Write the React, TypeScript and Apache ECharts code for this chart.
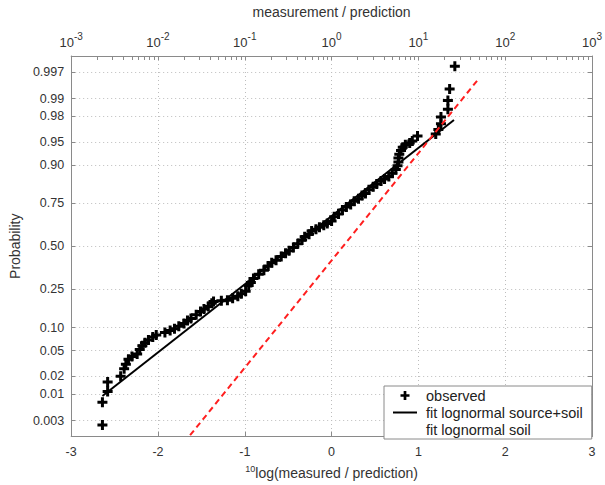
import React, { useEffect, useRef } from 'react';
import * as echarts from 'echarts';

// Probability tick marks on the normal-quantile y axis
const probTickValues = [0.003, 0.01, 0.02, 0.05, 0.1, 0.25, 0.5, 0.75, 0.9, 0.95, 0.98, 0.99, 0.997];
const probTickLabels = ['0.003', '0.01', '0.02', '0.05', '0.10', '0.25', '0.50', '0.75', '0.90', '0.95', '0.98', '0.99', '0.997'];

// bottom axis: 10log(measured / prediction)
const bottomTicks = [-3, -2, -1, 0, 1, 2, 3];
// top axis: decades of measurement / prediction (exponents)
const topDecades = [-3, -2, -1, 0, 1, 2, 3];
const topMinorMultipliers = [2, 3, 4, 5, 6, 7, 8, 9];

// observed: [10log(measured/prediction), standard normal quantile of plotting position]
const observed: [number, number][] = [
  [-2.64, -2.82], [-2.64, -2.46], [-2.58, -2.29], [-2.58, -2.14], [-2.43, -2.05],
  [-2.39, -1.93], [-2.37, -1.86], [-2.34, -1.78], [-2.30, -1.74], [-2.24, -1.70],
  [-2.21, -1.63], [-2.18, -1.57], [-2.15, -1.52], [-2.11, -1.48], [-2.06, -1.43],
  [-2.02, -1.40], [-1.92, -1.36], [-1.86, -1.33], [-1.81, -1.30], [-1.76, -1.26],
  [-1.70, -1.22], [-1.66, -1.17], [-1.62, -1.14], [-1.56, -1.08], [-1.51, -1.03],
  [-1.47, -0.99], [-1.42, -0.95], [-1.38, -0.90], [-1.36, -0.87], [-1.27, -0.86],
  [-1.20, -0.85], [-1.14, -0.82], [-1.08, -0.79], [-1.04, -0.75], [-0.99, -0.71],
  [-0.955, -0.62], [-0.93, -0.57], [-0.90, -0.51], [-0.84, -0.44], [-0.78, -0.38],
  [-0.73, -0.31], [-0.69, -0.26], [-0.64, -0.22], [-0.58, -0.16], [-0.53, -0.11],
  [-0.49, -0.07], [-0.44, -0.02], [-0.39, 0.04], [-0.34, 0.10], [-0.31, 0.15],
  [-0.26, 0.19], [-0.23, 0.24], [-0.18, 0.27], [-0.14, 0.30], [-0.09, 0.33],
  [-0.05, 0.36], [0.0, 0.40], [0.03, 0.465], [0.08, 0.51], [0.125, 0.57],
  [0.17, 0.62], [0.22, 0.66], [0.26, 0.71], [0.31, 0.75], [0.35, 0.80],
  [0.39, 0.83], [0.43, 0.89], [0.48, 0.94], [0.52, 0.98], [0.57, 1.03],
  [0.61, 1.06], [0.66, 1.10], [0.70, 1.15], [0.74, 1.21], [0.76, 1.27],
  [0.77, 1.33], [0.77, 1.39], [0.78, 1.45], [0.80, 1.51], [0.82, 1.56],
  [0.85, 1.60], [0.90, 1.63], [0.93, 1.66], [0.99, 1.74], [1.20, 1.77],
  [1.23, 1.84], [1.26, 1.93], [1.26, 2.04], [1.34, 2.16], [1.34, 2.30],
  [1.36, 2.48], [1.42, 2.84],
];

// fitted lines: [10log(measured/prediction), normal quantile]
const fitSourceSoil: [number, number][] = [[-2.64, -2.36], [1.41, 1.99]];
const fitSoil: [number, number][] = [[-1.63, -2.98], [1.70, 2.65]];

function probit(p: number): number {
  const a = [-3.969683028665376e1, 2.209460984245205e2, -2.759285104469687e2, 1.38357751867269e2, -3.066479806614716e1, 2.506628277459239];
  const b = [-5.447609879822406e1, 1.615858368580409e2, -1.556989798598866e2, 6.680131188771972e1, -1.328068155288572e1];
  const c = [-7.784894002430293e-3, -3.223964580411365e-1, -2.400758277161838, -2.549732539343734, 4.374664141464968, 2.938163982698783];
  const d = [7.784695709041462e-3, 3.224671290700398e-1, 2.445134137142996, 3.754408661907416];
  const pl = 0.02425;
  if (p < pl) {
    const q = Math.sqrt(-2 * Math.log(p));
    return (((((c[0] * q + c[1]) * q + c[2]) * q + c[3]) * q + c[4]) * q + c[5]) / ((((d[0] * q + d[1]) * q + d[2]) * q + d[3]) * q + 1);
  }
  if (p > 1 - pl) {
    const q = Math.sqrt(-2 * Math.log(1 - p));
    return -(((((c[0] * q + c[1]) * q + c[2]) * q + c[3]) * q + c[4]) * q + c[5]) / ((((d[0] * q + d[1]) * q + d[2]) * q + d[3]) * q + 1);
  }
  const q = p - 0.5;
  const r = q * q;
  return ((((((a[0] * r + a[1]) * r + a[2]) * r + a[3]) * r + a[4]) * r + a[5]) * q) / (((((b[0] * r + b[1]) * r + b[2]) * r + b[3]) * r + b[4]) * r + 1);
}

const FONT = '"Liberation Sans", Arial, sans-serif';
const AXIS_COLOR = '#8a8a8a';
const TEXT_COLOR = '#333';
const GRID_LINE = { show: true, lineStyle: { color: '#bdbdbd', type: [1, 3] as any, width: 1 } };

const PLUS = 'path://M3.5,0H6.5V3.5H10V6.5H6.5V10H3.5V6.5H0V3.5H3.5Z';
const LINE_ICON = 'path://M0,0L0,0M0,3.5H24V5.5H0Z M24,9L24,9';

export default function App() {
  const ref = useRef<HTMLDivElement>(null);
  useEffect(() => {
    if (!ref.current) return;
    const chart = echarts.init(ref.current, undefined, { renderer: 'svg' });
    const probZ = probTickValues.map(probit);
    const labelFor = (v: number) => {
      let best = 0;
      for (let i = 1; i < probZ.length; i++) if (Math.abs(probZ[i] - v) < Math.abs(probZ[best] - v)) best = i;
      return probTickLabels[best];
    };
    const topTickValues: number[] = [];
    topDecades.forEach((e, i) => {
      topTickValues.push(e);
      if (i < topDecades.length - 1) topMinorMultipliers.forEach((m) => topTickValues.push(e + Math.log10(m)));
    });
    const option: any = {
      animation: false,
      backgroundColor: '#fff',
      textStyle: { fontFamily: FONT },
      grid: { left: 70, right: 7, top: 50, bottom: 43, containLabel: false },
      xAxis: [
        {
          type: 'value', position: 'bottom', min: -3, max: 3, interval: 1,
          axisLine: { show: true, onZero: false, lineStyle: { color: AXIS_COLOR, width: 1 } },
          axisTick: { show: true, inside: true, length: 5, lineStyle: { color: AXIS_COLOR } },
          axisLabel: { show: true, color: TEXT_COLOR, fontSize: 12.5, margin: 9, fontFamily: FONT, customValues: bottomTicks },
          splitLine: GRID_LINE,
          name: '{sup|10}{base|log(measured / prediction)}',
          nameLocation: 'middle', nameGap: 28,
          nameTextStyle: {
            fontFamily: FONT, color: TEXT_COLOR,
            rich: {
              sup: { fontSize: 9, fontFamily: FONT, color: TEXT_COLOR, padding: [0, 0, 8, 0] },
              base: { fontSize: 14, fontFamily: FONT, color: TEXT_COLOR },
            },
          },
        },
        {
          type: 'value', position: 'top', min: -3, max: 3, interval: 1,
          axisLine: { show: true, onZero: false, lineStyle: { color: AXIS_COLOR, width: 1 } },
          axisTick: { show: true, inside: true, length: 4, customValues: topTickValues, lineStyle: { color: AXIS_COLOR } },
          axisLabel: {
            show: true, margin: 3, customValues: topDecades,
            formatter: (v: number) => `{base|10}{sup|${Math.round(v)}}`,
            rich: {
              base: { fontSize: 13, fontFamily: FONT, color: TEXT_COLOR },
              sup: { fontSize: 10, fontFamily: FONT, color: TEXT_COLOR, padding: [0, 0, 12, 0] },
            },
          },
          splitLine: { show: false },
          name: 'measurement / prediction',
          nameLocation: 'middle', nameGap: 37,
          nameTextStyle: { fontSize: 14, fontFamily: FONT, color: TEXT_COLOR },
        },
      ],
      yAxis: [
        {
          type: 'value', position: 'left', min: -3, max: 3,
          axisLine: { show: true, onZero: false, lineStyle: { color: AXIS_COLOR, width: 1 } },
          axisTick: { show: true, inside: true, length: 4, customValues: probZ, lineStyle: { color: AXIS_COLOR } },
          axisLabel: { show: true, customValues: probZ, formatter: (v: number) => labelFor(v), color: TEXT_COLOR, fontSize: 12.5, fontFamily: FONT, margin: 7 },
          splitLine: GRID_LINE,
          name: 'Probability', nameLocation: 'middle', nameGap: 42, nameRotate: 90,
          nameTextStyle: { fontSize: 14, fontFamily: FONT, color: TEXT_COLOR },
        },
        {
          type: 'value', position: 'right', min: -3, max: 3,
          axisLine: { show: true, onZero: false, lineStyle: { color: AXIS_COLOR, width: 1 } },
          axisTick: { show: true, inside: true, length: 4, customValues: probZ, lineStyle: { color: AXIS_COLOR } },
          axisLabel: { show: false },
          splitLine: { show: false },
        },
      ],
      legend: {
        orient: 'vertical', left: 384, top: 386,
        itemWidth: 24, itemHeight: 9, itemGap: 2,
        padding: [2, 9, 2, 9],
        borderColor: '#8a8a8a', borderWidth: 1, backgroundColor: '#fff',
        textStyle: { fontSize: 14.5, color: '#222', fontFamily: FONT, padding: [0, 0, 0, 4] },
        data: [
          { name: 'observed' },
          { name: 'fit lognormal source+soil', icon: LINE_ICON },
          { name: 'fit lognormal soil', icon: 'none' },
        ],
      },
      series: [
        {
          name: 'fit lognormal source+soil', type: 'line', data: fitSourceSoil,
          xAxisIndex: 0, yAxisIndex: 0, symbol: 'none', showSymbol: false,
          lineStyle: { color: '#000', width: 2 }, itemStyle: { color: '#000' }, z: 2,
        },
        {
          name: 'observed', type: 'scatter', data: observed,
          xAxisIndex: 0, yAxisIndex: 0, symbol: PLUS, symbolSize: 10,
          itemStyle: { color: '#000', opacity: 1 }, z: 3,
        },
        {
          name: 'fit lognormal soil', type: 'line', data: fitSoil,
          xAxisIndex: 0, yAxisIndex: 0, symbol: 'none', showSymbol: false,
          lineStyle: { color: '#ff1f1f', width: 2, type: [6, 4] }, itemStyle: { color: '#ff1f1f' }, z: 4,
        },
      ],
    };
    chart.setOption(option);
    return () => chart.dispose();
  }, []);
  return <div ref={ref} style={{ position: 'absolute', left: 0, top: 0, width: 605, height: 485 }} />;
}
